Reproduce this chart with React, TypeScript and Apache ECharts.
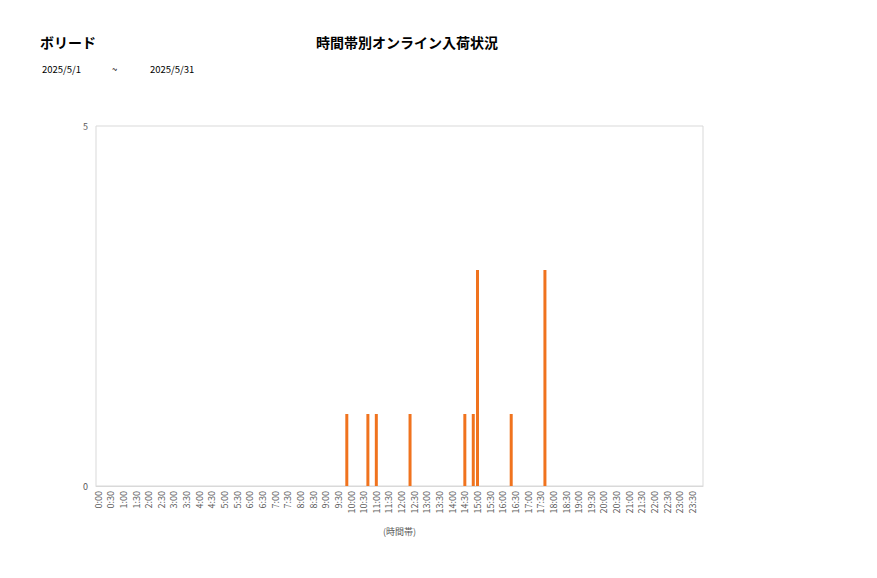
import { useEffect, useRef } from "react";
import * as echarts from "echarts";

// ── Data ──────────────────────────────────────────────────────────────────────
const HOURS = Array.from({ length: 24 }, (_, h) => h);
const MINUTES = ["00", "10", "20", "30", "40", "50"];
const timeSlots: string[] = HOURS.flatMap((h) => MINUTES.map((m) => `${h}:${m}`));

const arrivalTimes = ["9:50", "10:40", "11:00", "12:20", "14:30", "14:50", "15:00", "16:20", "17:40"];
const arrivalCounts = [1, 1, 1, 1, 1, 1, 3, 1, 3];

const storeName = "ボリード";
const chartTitle = "時間帯別オンライン入荷状況";
const dateFrom = "2025/5/1";
const dateTo = "2025/5/31";

const FONT = "'Noto Sans CJK JP', 'Noto Sans', sans-serif";
const AXIS_TEXT = { color: "#595959", fontSize: 9, fontFamily: FONT };
const TITLE_TEXT = { fontSize: 14, fontWeight: "bold" as const, color: "#000", fontFamily: FONT };

export default function App() {
  const ref = useRef<HTMLDivElement>(null);

  useEffect(() => {
    const el = ref.current;
    if (!el) return;
    const chart = echarts.init(el, null, { renderer: "svg" });
    const values = timeSlots.map((t) => {
      const i = arrivalTimes.indexOf(t);
      return i >= 0 ? arrivalCounts[i] : 0;
    });
    chart.setOption({
      animation: false,
      backgroundColor: "#fff",
      title: [
        { text: storeName, left: 35, top: 30, textStyle: TITLE_TEXT },
        { text: chartTitle, left: 311, top: 30, textStyle: TITLE_TEXT },
      ],
      graphic: [
        { type: "text", left: 42, top: 64, style: { text: dateFrom, fontSize: 9.5, fill: "#000", fontFamily: FONT } },
        { type: "text", left: 112, top: 64, style: { text: "~", fontSize: 9.5, fill: "#000", fontFamily: FONT } },
        { type: "text", left: 150, top: 64, style: { text: dateTo, fontSize: 9.5, fill: "#000", fontFamily: FONT } },
      ],
      grid: { left: 96, top: 126, width: 607, height: 360, show: true, borderColor: "#d9d9d9", borderWidth: 1 },
      xAxis: {
        type: "category",
        data: timeSlots,
        name: "(時間帯)",
        nameLocation: "middle",
        nameGap: 41,
        nameTextStyle: { ...AXIS_TEXT },
        axisLine: { lineStyle: { color: "#d9d9d9" } },
        axisTick: { show: false },
        axisLabel: { ...AXIS_TEXT, interval: 2, rotate: 90, margin: 5 },
      },
      yAxis: {
        type: "value",
        min: 0,
        max: 5,
        interval: 5,
        axisLine: { show: false },
        axisTick: { show: false },
        splitLine: { show: false },
        axisLabel: { ...AXIS_TEXT, margin: 8 },
      },
      series: [
        {
          type: "bar",
          data: values,
          barWidth: 3,
          itemStyle: { color: "#F0731E" },
        },
      ],
    });
    return () => chart.dispose();
  }, []);

  return <div ref={ref} style={{ position: "fixed", left: 0, top: 0, width: 877, height: 578 }} />;
}
